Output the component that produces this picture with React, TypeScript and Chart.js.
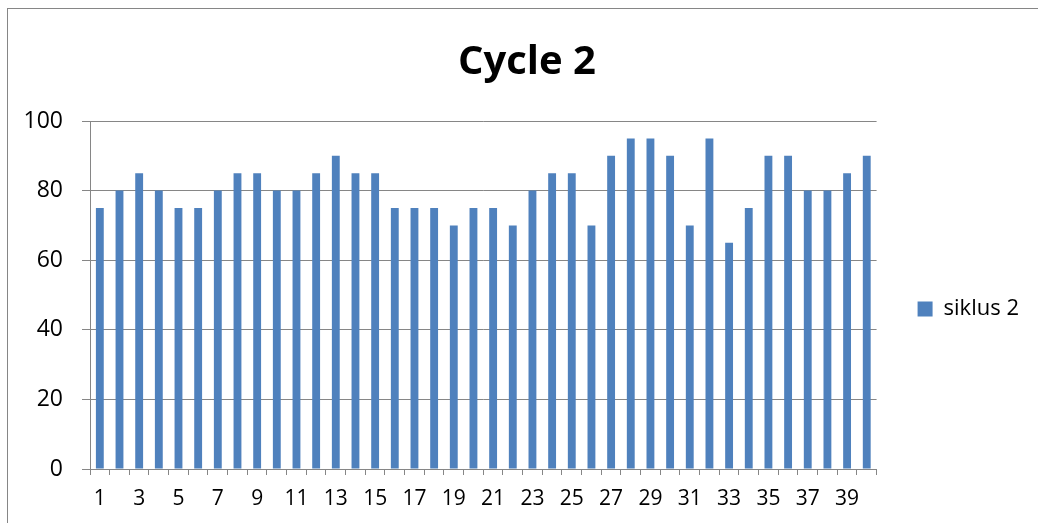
import React, { useEffect, useRef } from "react";
import { Chart, registerables } from "chart.js";

Chart.register(...registerables);

const categories: string[] = Array.from({ length: 40 }, (_, i) => String(i + 1));
const siklus2: number[] = [
  75, 80, 85, 80, 75, 75, 80, 85, 85, 80,
  80, 85, 90, 85, 85, 75, 75, 75, 70, 75,
  75, 70, 80, 85, 85, 70, 90, 95, 95, 90,
  70, 95, 65, 75, 90, 90, 80, 80, 85, 90,
];
const seriesName = "siklus 2";
const chartTitle = "Cycle 2";
const yMin = 0;
const yMax = 100;
const yStep = 20;

const FONT = "'Open Sans', 'DejaVu Sans', sans-serif";
const GRID = "#868686";

export default function App() {
  const ref = useRef<HTMLCanvasElement | null>(null);

  useEffect(() => {
    if (!ref.current) return;
    const chart = new Chart(ref.current, {
      type: "bar",
      data: {
        labels: categories,
        datasets: [
          {
            label: seriesName,
            data: siklus2,
            backgroundColor: "#4F81BD",
            borderWidth: 0,
            barPercentage: 0.8,
            categoryPercentage: 0.5,
          },
        ],
      },
      options: {
        responsive: false,
        animation: false,
        maintainAspectRatio: false,
        layout: { padding: { left: 17, right: 9, top: 0, bottom: 0 } },
        plugins: {
          tooltip: { enabled: false },
          title: {
            display: true,
            text: chartTitle,
            color: "#000",
            font: { family: FONT, size: 40, weight: "bold" },
            padding: { top: 30, bottom: 34 },
          },
          legend: {
            display: true,
            position: "right",
            align: "center",
            fullSize: false,
            title: {
              display: true,
              text: " ",
              font: { size: 10 },
              padding: { top: 8, bottom: 8 },
            },
            labels: {
              color: "#000",
              boxWidth: 15,
              boxHeight: 15,
              padding: 41,
              font: { family: FONT, size: 22 },
            },
          },
        },
        scales: {
          x: {
            afterFit: (s: any) => {
              s.height = 54;
            },
            grid: {
              display: true,
              drawOnChartArea: false,
              drawTicks: true,
              tickLength: 6,
              color: GRID,
              tickColor: GRID,
              offset: true,
            },
            border: { display: true, color: GRID, width: 1 },
            ticks: {
              autoSkip: false,
              maxRotation: 0,
              minRotation: 0,
              padding: 11,
              color: "#000",
              font: { family: FONT, size: 21 },
              callback: (_v: any, i: number) => (i % 2 === 0 ? categories[i] : ""),
            },
          },
          y: {
            min: yMin,
            max: yMax,
            afterFit: (s: any) => {
              s.width = 65;
            },
            grid: {
              color: GRID,
              tickColor: GRID,
              tickLength: 8,
              drawTicks: true,
            },
            border: { display: true, color: GRID, width: 1 },
            ticks: {
              stepSize: yStep,
              padding: 19,
              color: "#000",
              font: { family: FONT, size: 23 },
            },
          },
        },
      },
    });
    return () => chart.destroy();
  }, []);

  return (
    <div
      style={{
        position: "absolute",
        left: 7,
        top: 8,
        width: 1030,
        height: 514,
        borderLeft: `1px solid ${GRID}`,
        borderTop: `1px solid ${GRID}`,
        background: "#fff",
      }}
    >
      <canvas ref={ref} width={1030} height={514} style={{ display: "block" }} />
    </div>
  );
}
